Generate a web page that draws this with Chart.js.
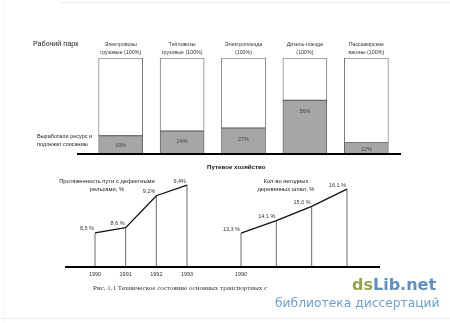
<!DOCTYPE html>
<html lang="ru">
<head>
<meta charset="utf-8">
<script src="https://cdn.jsdelivr.net/npm/chart.js@4"></script>
<style>
  html, body { margin: 0; padding: 0; background: #fff; }
  #page { position: relative; width: 450px; height: 323px; overflow: hidden; background: #fff;
          font-family: "Liberation Sans", Arial, sans-serif; color: #222; }
  canvas { position: absolute; left: 0; top: 0; }
  .t { position: absolute; white-space: nowrap; }
  .edge-top { position: absolute; left: 60px; right: 0; top: 2px; height: 1px; background: #ececec; }
  .edge-bot { position: absolute; left: 0; right: 0; top: 318px; height: 1px; background: #ececec; }
  .edge-left { position: absolute; left: 4px; top: 0; bottom: 0; width: 1px; background: #f2f2f2; }
</style>
</head>
<body>
<div id="page">
  <div class="edge-top"></div><div class="edge-bot"></div><div class="edge-left"></div>
  <canvas id="bars" width="450" height="323"></canvas>
  <canvas id="rails" width="450" height="323"></canvas>
  <canvas id="sleepers" width="450" height="323"></canvas>

  <div class="t" style="left:33px; top:39px; font-size:7.2px; line-height:10px;">Рабочий парк</div>
  <div class="t" style="left:37px; top:132px; font-size:5.5px; line-height:8px;">Выработали ресурс и<br>подлежат списанию</div>
  <div class="t" style="left:207px; top:162px; font-size:6.2px; line-height:10px; font-weight:bold; color:#111;">Путевое хозяйство</div>
  <div class="t" style="left:52px; top:177px; width:110px; text-align:center; font-size:5.8px; line-height:8px;">Протяженность пути с дефектными<br>рельсами, %</div>
  <div class="t" style="left:236px; top:177px; width:100px; text-align:center; font-size:5.8px; line-height:8px;">Кол-во негодных<br>деревянных шпал, %</div>
  <div class="t" style="left:93px; top:283px; font-family:'Liberation Serif', serif; font-size:7px; line-height:10px; color:#333;">Рис. 1.1 Техническое состояние основных транспортных с</div>
  <div class="t" style="left:352px; top:275px; font-family:'DejaVu Sans', sans-serif; font-weight:bold; font-size:16px; line-height:20px;"><span style="color:#8fa44c;">ds</span><span style="color:#5d8fc4;">Lib.net</span></div>
  <div class="t" style="left:275px; top:295px; font-family:'DejaVu Sans', sans-serif; font-size:12.3px; line-height:16px; color:#6c9fd2;">библиотека диссертаций</div>
</div>

<script>
// Рабочий парк: доля подвижного состава, выработавшего ресурс (%)
const parkNames = [
  ['Электровозы', 'грузовые (100%)'],
  ['Тепловозы', 'грузовые (100%)'],
  ['Электропоезда', '(100%)'],
  ['Дизель-поезда', '(100%)'],
  ['Пассажирские', 'вагоны (100%)']
];
const wornOut = [19, 24, 27, 56, 12];
const remaining = wornOut.map(v => 100 - v);

// Путевое хозяйство
const years = ['1990', '1991', '1992', '1993'];
const defectiveRails = [8.5, 8.6, 9.2, 9.4];
const badSleepers = [13.3, 14.1, 15.0, 16.1];
const sleeperYearLabels = ['1990', '', '', ''];

const fmt = v => v.toFixed(1).replace('.', ',');
const defectiveRailLabels = ['8,5 %', '8,6 %', '9,2%', '9,4%'];
const badSleeperLabels = badSleepers.map(v => fmt(v) + ' %');

const smallFont = '5.5px "Liberation Sans", Arial, sans-serif';

// Подписи категорий над столбцами, проценты внутри и базовая линия
const barDecor = {
  id: 'barDecor',
  afterDatasetsDraw(chart) {
    const { ctx, chartArea, scales } = chart;
    const worn = chart.getDatasetMeta(0);
    ctx.save();
    ctx.fillStyle = '#333';
    ctx.font = '5.3px "Liberation Sans", Arial, sans-serif';
    ctx.textAlign = 'center';
    ctx.textBaseline = 'middle';
    parkNames.forEach((lines, i) => {
      const x = scales.x.getPixelForValue(i);
      ctx.fillText(lines[0], x, chartArea.top - 13);
      ctx.fillText(lines[1], x, chartArea.top - 5);
    });
    ctx.fillStyle = '#444';
    ctx.font = smallFont;
    worn.data.forEach((bar, i) => {
      const y = Math.min(bar.y + 11, (bar.y + bar.base) / 2 + 1);
      ctx.fillText(wornOut[i] + '%', bar.x, y);
    });
    const y0 = scales.y.getPixelForValue(0);
    ctx.strokeStyle = '#000';
    ctx.lineWidth = 2;
    ctx.beginPath();
    ctx.moveTo(chartArea.left - 13, y0);
    ctx.lineTo(chartArea.right + 4, y0);
    ctx.stroke();
    ctx.restore();
  }
};

new Chart(document.getElementById('bars'), {
  type: 'bar',
  data: {
    labels: parkNames.map(n => n.join(' ')),
    datasets: [
      { data: wornOut, backgroundColor: '#a6a6a6', borderColor: '#555', borderWidth: 0.8, borderSkipped: false, barThickness: 44 },
      { data: remaining, backgroundColor: '#ffffff', borderColor: '#555', borderWidth: 0.8, borderSkipped: false, barThickness: 44 }
    ]
  },
  options: {
    responsive: false, animation: false, devicePixelRatio: 1,
    layout: { padding: { left: 90, right: 53, top: 58, bottom: 169 } },
    plugins: { legend: { display: false }, tooltip: { enabled: false } },
    scales: {
      x: { display: false, stacked: true },
      y: { display: false, stacked: true, min: 0, max: 100 }
    }
  },
  plugins: [barDecor]
});

// Вертикали к оси, подписи значений, ось и годы
function lineDecor(valueLabels, tickLabels, extendLeft, extendRight) {
  return {
    id: 'lineDecor',
    beforeDatasetsDraw(chart) {
      const { ctx, chartArea } = chart;
      const meta = chart.getDatasetMeta(0);
      ctx.save();
      ctx.strokeStyle = '#444';
      ctx.lineWidth = 0.8;
      meta.data.forEach(pt => {
        ctx.beginPath();
        ctx.moveTo(pt.x, pt.y);
        ctx.lineTo(pt.x, chartArea.bottom);
        ctx.stroke();
      });
      ctx.restore();
    },
    afterDatasetsDraw(chart) {
      const { ctx, chartArea, scales } = chart;
      const meta = chart.getDatasetMeta(0);
      ctx.save();
      ctx.strokeStyle = '#000';
      ctx.lineWidth = 2;
      ctx.beginPath();
      ctx.moveTo(chartArea.left - extendLeft, chartArea.bottom);
      ctx.lineTo(chartArea.right + extendRight, chartArea.bottom);
      ctx.stroke();
      ctx.fillStyle = '#333';
      ctx.font = smallFont;
      ctx.textBaseline = 'middle';
      ctx.textAlign = 'right';
      meta.data.forEach((pt, i) => {
        ctx.fillText(valueLabels[i], pt.x - 1, pt.y - 4);
      });
      ctx.textAlign = 'center';
      tickLabels.forEach((lab, i) => {
        if (lab) ctx.fillText(lab, scales.x.getPixelForValue(i), chartArea.bottom + 7);
      });
      ctx.restore();
    }
  };
}

function lineChart(id, values, yMin, yMax, padLeft, padRight, valueLabels, tickLabels, extL, extR) {
  return new Chart(document.getElementById(id), {
    type: 'line',
    data: {
      labels: years,
      datasets: [{ data: values, borderColor: '#111', borderWidth: 1.3, pointRadius: 0, tension: 0, clip: false }]
    },
    options: {
      responsive: false, animation: false, devicePixelRatio: 1,
      layout: { padding: { left: padLeft, right: padRight, top: 175, bottom: 56 } },
      plugins: { legend: { display: false }, tooltip: { enabled: false } },
      scales: {
        x: { display: false, offset: false },
        y: { display: false, min: yMin, max: yMax }
      }
    },
    plugins: [lineDecor(valueLabels, tickLabels, extL, extR)]
  });
}

lineChart('rails', defectiveRails, 7.86, 9.59, 95, 263, defectiveRailLabels, years, 30, 31);
lineChart('sleepers', badSleepers, 11.14, 17.0, 241, 103, badSleeperLabels, sleeperYearLabels, 23, 33);
</script>
</body>
</html>
